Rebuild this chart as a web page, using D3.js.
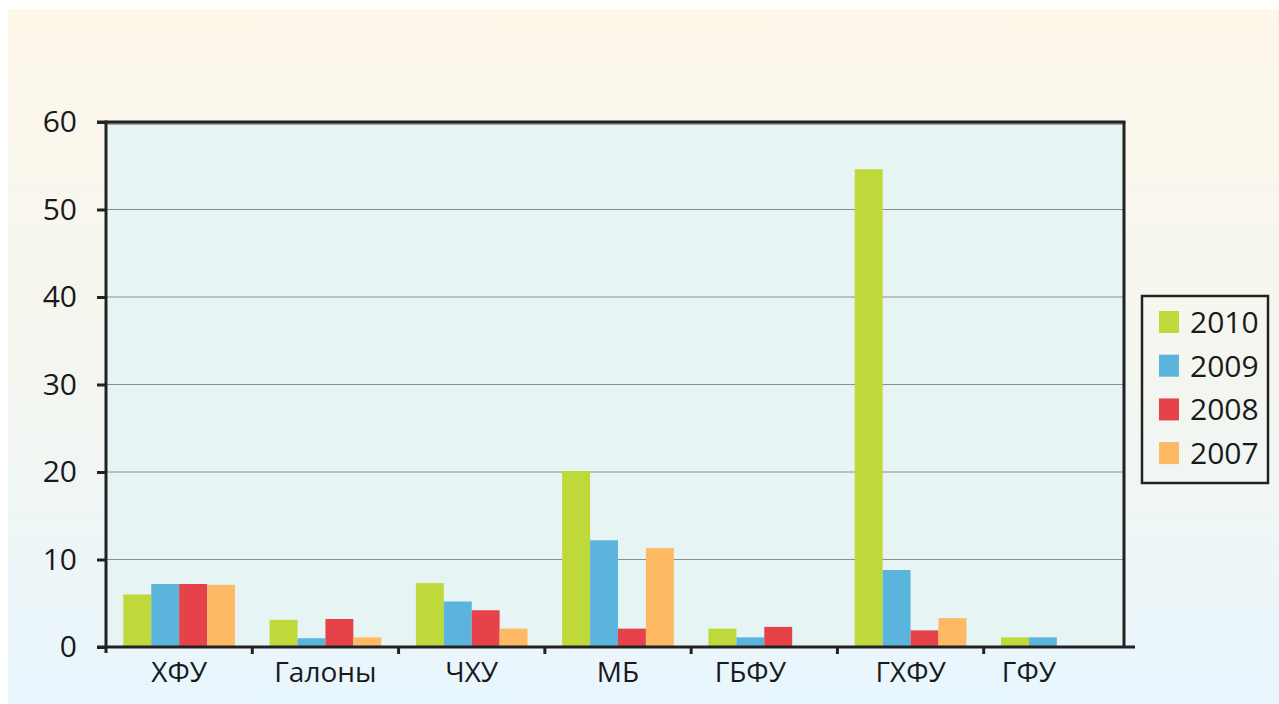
<!DOCTYPE html>
<html>
<head>
<meta charset="utf-8">
<script src="https://cdn.jsdelivr.net/npm/d3@7"></script>
<style>
  html, body { margin: 0; padding: 0; background: #fff; }
  svg { display: block; font-family: "Open Sans", "Noto Sans", sans-serif; }
</style>
</head>
<body>
<svg></svg>
<script>
var WIDTH = 1279;
var HEIGHT = 704;

// data
var categories = ['ХФУ', 'Галоны', 'ЧХУ', 'МБ', 'ГБФУ', 'ГХФУ', 'ГФУ'];
var years = ['2010', '2009', '2008', '2007'];
var v2010 = [6.0, 3.1, 7.3, 20.1, 2.1, 54.6, 1.1];
var v2009 = [7.2, 1.0, 5.2, 12.2, 1.1, 8.8, 1.1];
var v2008 = [7.2, 3.2, 4.2, 2.1, 2.3, 1.9, null];
var v2007 = [7.1, 1.1, 2.1, 11.3, null, 3.3, null];
var yTicks = [0, 10, 20, 30, 40, 50, 60];
var colors = ['#bfd83a', '#5ab4dc', '#e5424a', '#fdb964'];

var series = [v2010, v2009, v2008, v2007];

var svg = d3.select('svg')
  .attr('width', WIDTH)
  .attr('height', HEIGHT);

var defs = svg.append('defs');
var grad = defs.append('linearGradient')
  .attr('id', 'bg')
  .attr('x1', 0).attr('y1', 0).attr('x2', 0).attr('y2', 1);
grad.append('stop').attr('offset', '0%').attr('stop-color', '#fef7ea');
grad.append('stop').attr('offset', '55%').attr('stop-color', '#f3f6f0');
grad.append('stop').attr('offset', '100%').attr('stop-color', '#e8f6fe');

// page panel
svg.append('rect')
  .attr('x', 8).attr('y', 9)
  .attr('width', WIDTH - 8).attr('height', HEIGHT - 9)
  .attr('fill', 'url(#bg)');

var plotLeft = 106, plotRight = 1124, plotTop = 122, plotBottom = 647;

var xScale = d3.scaleBand()
  .domain(categories)
  .range([plotLeft, 1130])
  .paddingInner(0)
  .paddingOuter(0);

var subScale = d3.scaleBand()
  .domain(years)
  .range([0, xScale.bandwidth()])
  .paddingInner(0)
  .paddingOuter(0.62);

var yScale = d3.scaleLinear()
  .domain([0, 60])
  .range([plotBottom, plotTop]);

// plot area
svg.append('rect')
  .attr('x', plotLeft).attr('y', plotTop)
  .attr('width', plotRight - plotLeft).attr('height', plotBottom - plotTop)
  .attr('fill', '#e6f5f4');

// grid
svg.append('g')
  .selectAll('line')
  .data(yTicks.filter(function(d){ return d > 0 && d < 60; }))
  .enter()
  .append('line')
  .attr('x1', plotLeft).attr('x2', plotRight)
  .attr('y1', function(d){ return yScale(d); })
  .attr('y2', function(d){ return yScale(d); })
  .attr('stroke', '#8a8f8f')
  .attr('stroke-width', 1.2);

function barsOf(i) {
  return years.map(function(y, j){ return {year: y, value: series[j][i], color: colors[j]}; })
    .filter(function(b){ return b.value != null; });
}

// bars
var groups = svg.append('g')
  .selectAll('g')
  .data(categories)
  .enter()
  .append('g')
  .attr('transform', function(d){ return 'translate(' + xScale(d) + ',0)'; });

groups.selectAll('rect')
  .data(function(d, i){ return barsOf(i); })
  .enter()
  .append('rect')
  .attr('x', function(b){ return subScale(b.year); })
  .attr('width', subScale.bandwidth())
  .attr('y', function(b){ return yScale(b.value); })
  .attr('height', function(b){ return plotBottom - yScale(b.value); })
  .attr('fill', function(b){ return b.color; });

// top border with shadow, right border
svg.append('line')
  .attr('x1', plotLeft).attr('x2', plotRight)
  .attr('y1', plotTop + 2).attr('y2', plotTop + 2)
  .attr('stroke', '#a0a4a4').attr('stroke-width', 2);
svg.append('line')
  .attr('x1', 97).attr('x2', plotRight + 1.5)
  .attr('y1', plotTop).attr('y2', plotTop)
  .attr('stroke', '#222').attr('stroke-width', 3);
svg.append('line')
  .attr('x1', plotRight).attr('x2', plotRight)
  .attr('y1', plotTop).attr('y2', plotBottom)
  .attr('stroke', '#222').attr('stroke-width', 3);

// y axis
var yAxis = svg.append('g')
  .attr('transform', 'translate(' + plotLeft + ',0)')
  .call(d3.axisLeft(yScale).tickValues(yTicks).tickSize(9).tickPadding(20).tickSizeOuter(0));
yAxis.select('.domain').remove();
yAxis.selectAll('.tick line').attr('stroke', '#222').attr('stroke-width', 3);
yAxis.selectAll('.tick text')
  .attr('fill', '#1a1a1a')
  .style('font-size', '30px')
  .style('font-family', '"Open Sans", sans-serif');
svg.append('line')
  .attr('x1', plotLeft).attr('x2', plotLeft)
  .attr('y1', plotTop - 1.5).attr('y2', plotBottom + 6)
  .attr('stroke', '#222').attr('stroke-width', 3);

// x axis
svg.append('line')
  .attr('x1', 97).attr('x2', 1135)
  .attr('y1', plotBottom).attr('y2', plotBottom)
  .attr('stroke', '#222').attr('stroke-width', 3);

var bounds = categories.slice(1).map(function(c){ return xScale(c); });
svg.append('g')
  .selectAll('line')
  .data(bounds)
  .enter()
  .append('line')
  .attr('x1', function(d){ return d; }).attr('x2', function(d){ return d; })
  .attr('y1', plotBottom).attr('y2', plotBottom + 7)
  .attr('stroke', '#222').attr('stroke-width', 3);

// category labels, centred under the bars that are drawn
svg.append('g')
  .selectAll('text')
  .data(categories)
  .enter()
  .append('text')
  .attr('x', function(d, i){
    var b = barsOf(i);
    var x0 = xScale(d) + subScale(b[0].year);
    var x1 = xScale(d) + subScale(b[b.length - 1].year) + subScale.bandwidth();
    return (x0 + x1) / 2;
  })
  .attr('y', plotBottom + 35)
  .attr('text-anchor', 'middle')
  .attr('fill', '#1a1a1a')
  .style('font-size', '28px')
  .text(function(d){ return d; });

// legend
var legend = svg.append('g');
legend.append('rect')
  .attr('x', 1142).attr('y', 296)
  .attr('width', 126).attr('height', 187)
  .attr('fill', 'none')
  .attr('stroke', '#222').attr('stroke-width', 2.5);

var items = legend.selectAll('g.item')
  .data(years)
  .enter()
  .append('g')
  .attr('class', 'item')
  .attr('transform', function(d, i){ return 'translate(1159,' + (322 + i * 43.7) + ')'; });
items.append('rect')
  .attr('x', 0).attr('y', -11)
  .attr('width', 20).attr('height', 22)
  .attr('fill', function(d, i){ return colors[i]; });
items.append('text')
  .attr('x', 31).attr('y', 0)
  .attr('dy', '0.36em')
  .attr('fill', '#1a1a1a')
  .style('font-size', '30px')
  .text(function(d){ return d; });
</script>
</body>
</html>
